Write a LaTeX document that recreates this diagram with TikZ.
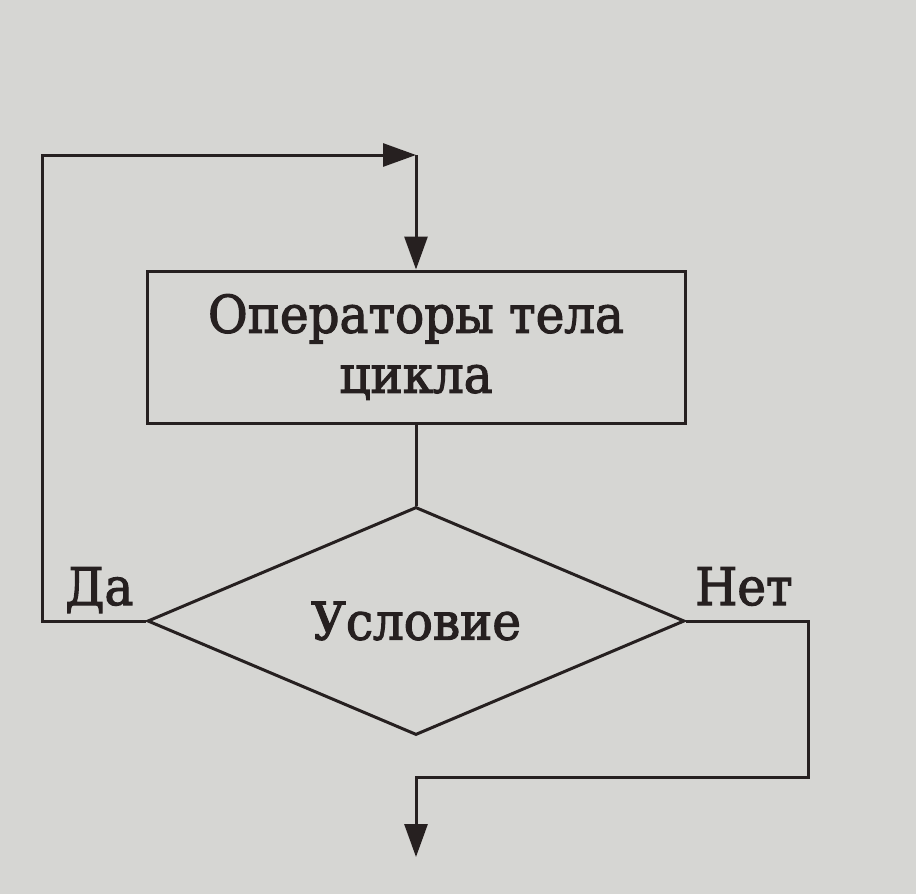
\documentclass[tikz,border=0pt]{standalone}
\usepackage{fontspec}
\setmainfont{DejaVu Serif}[FakeStretch=0.93, FakeBold=2.2]
\usetikzlibrary{shapes.geometric,arrows.meta}
\definecolor{paper}{RGB}{214,214,211}
\definecolor{ink}{RGB}{38,32,32}
\tikzset{
  x=1pt, y=-1pt,
  lbl/.style={font=\fontsize{52}{60}\selectfont, text=ink, inner sep=0pt},
  stepbox/.style={draw=ink, line width=3pt, rectangle, minimum width=538pt, minimum height=152pt, inner sep=0pt, align=center, lbl},
  condbox/.style={draw=ink, line width=3pt, diamond, shape aspect=2.36, minimum width=537pt, minimum height=228pt, inner sep=0pt, lbl},
  conn/.style={draw=ink, line width=3pt},
  tip/.style={-{Triangle[length=33pt,width=23pt]}}
}
\begin{document}
\begin{tikzpicture}
\useasboundingbox[fill=paper] (0,0) rectangle (916,894);
\node[stepbox] (body) at (416,347) {Операторы тела\\цикла};
\node[condbox] (cond) at (416,621) {Условие};
\coordinate (yesdown) at (42,621);
\coordinate (top) at (416,155);
\coordinate (nocorner) at (808,621);
\coordinate (exitcorner) at (808,777);
\coordinate (exit) at (416,857);
\draw[conn] (body.south) -- (cond.north);
\draw[conn,tip] (cond.west) -- (yesdown) |- (top);
\draw[conn,tip] (top) -- (body.north);
\draw[conn,tip] (cond.east) -- (nocorner) -- (exitcorner) -| (exit);
\node[lbl, anchor=base west] (yes) at (65,605) {Да};
\node[lbl, anchor=base west] (no) at (695,605) {Нет};
\end{tikzpicture}
\end{document}
